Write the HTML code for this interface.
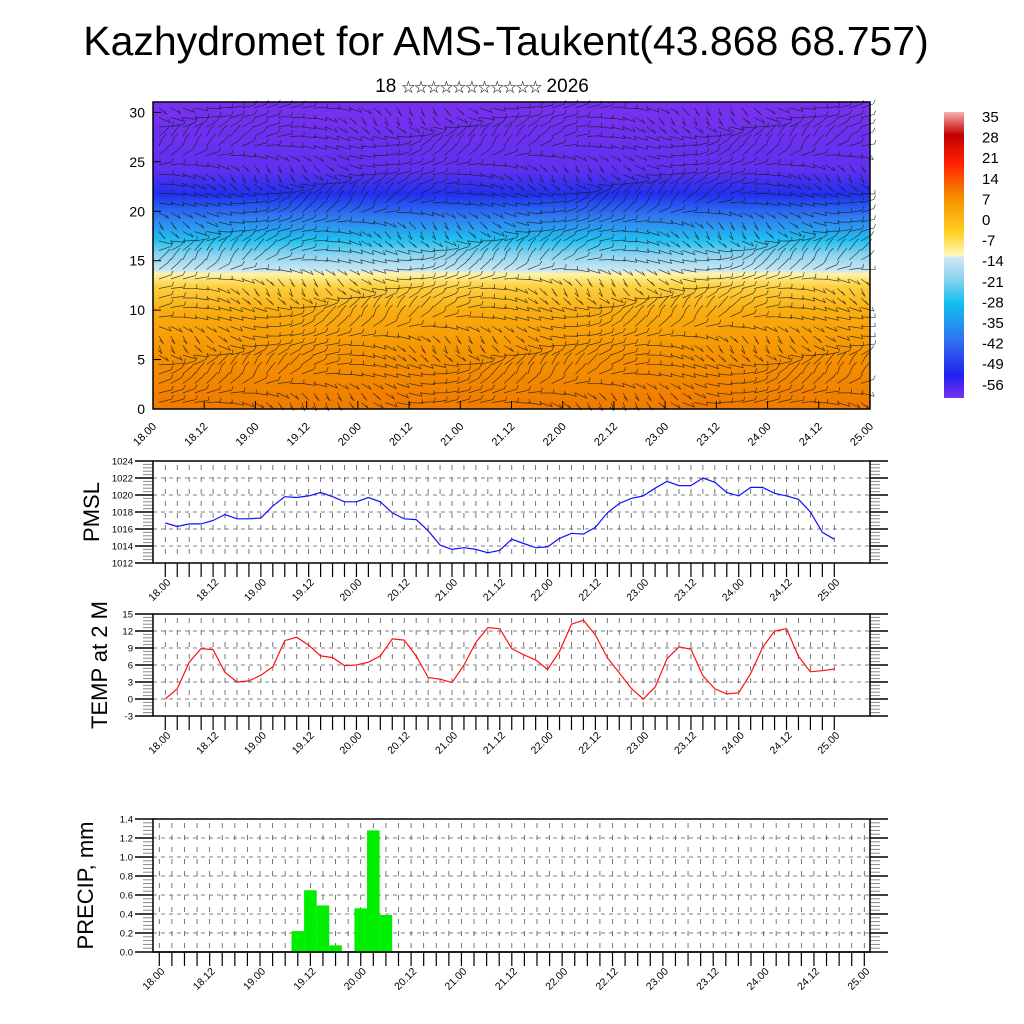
<!DOCTYPE html>
<html><head><meta charset="utf-8"><style>
html,body{margin:0;padding:0;background:#fff;}
svg{display:block;font-family:"Liberation Sans","Noto Sans CJK SC",sans-serif;}
</style></head><body>
<svg id="chart" width="1024" height="1024" viewBox="0 0 1024 1024" xmlns="http://www.w3.org/2000/svg">
<defs>
<linearGradient id="tempGrad" x1="0" y1="1" x2="0" y2="0">
<stop offset="0" stop-color="#f07a00"/>
<stop offset="0.16" stop-color="#f59000"/>
<stop offset="0.32" stop-color="#f9ad10"/>
<stop offset="0.40" stop-color="#fdd040"/>
<stop offset="0.44" stop-color="#fff3a8"/>
<stop offset="0.452" stop-color="#c8e6f4"/>
<stop offset="0.50" stop-color="#90d4f0"/>
<stop offset="0.55" stop-color="#20c0f0"/>
<stop offset="0.62" stop-color="#3080f0"/>
<stop offset="0.70" stop-color="#2030f0"/>
<stop offset="0.78" stop-color="#6030f0"/>
<stop offset="1" stop-color="#7a30f0"/>
</linearGradient>
<linearGradient id="cbGrad" x1="0" y1="1" x2="0" y2="0">
<stop offset="0" stop-color="#7a30f0"/>
<stop offset="0.08" stop-color="#2020f0"/>
<stop offset="0.2" stop-color="#3070f0"/>
<stop offset="0.33" stop-color="#10c0f0"/>
<stop offset="0.42" stop-color="#90d4f0"/>
<stop offset="0.494" stop-color="#d0e8f4"/>
<stop offset="0.495" stop-color="#fffac0"/>
<stop offset="0.58" stop-color="#ffd020"/>
<stop offset="0.7" stop-color="#f59000"/>
<stop offset="0.82" stop-color="#ff2000"/>
<stop offset="0.92" stop-color="#c00000"/>
<stop offset="1" stop-color="#f8b0b0"/>
</linearGradient>
</defs>
<text x="506" y="55" font-size="41" text-anchor="middle">Kazhydromet for AMS-Taukent(43.868 68.757)</text>
<text x="482" y="92" font-size="19" text-anchor="middle">18 <tspan font-size="13.5" letter-spacing="-0.8">☆☆☆☆☆☆☆☆☆☆☆</tspan> 2026</text>
<g id="contour"></g>
<g id="colorbar"></g>
<g id="pmsl"></g>
<g id="temp"></g>
<g id="precip"></g>
</svg>
<script>
const xLabels = ["18.00","18.12","19.00","19.12","20.00","20.12","21.00","21.12","22.00","22.12","23.00","23.12","24.00","24.12","25.00"];
const pmslValues = [1016.7,1016.3,1016.6,1016.6,1017.0,1017.7,1017.2,1017.2,1017.3,1018.7,1019.8,1019.7,1019.9,1020.3,1019.8,1019.2,1019.2,1019.7,1019.2,1017.9,1017.2,1017.1,1015.8,1014.1,1013.6,1013.8,1013.6,1013.2,1013.5,1014.8,1014.3,1013.8,1013.9,1014.9,1015.5,1015.4,1016.2,1017.9,1019.0,1019.6,1019.9,1020.8,1021.6,1021.1,1021.1,1022.0,1021.5,1020.3,1019.9,1020.9,1020.9,1020.2,1019.9,1019.5,1018.0,1015.6,1014.8];
const pmslTicks = [1012,1014,1016,1018,1020,1022,1024];
const tempValues = [0,1.8,6.5,8.9,8.7,4.7,3.0,3.2,4.2,5.7,10.3,10.9,9.5,7.6,7.3,5.9,6.0,6.5,7.6,10.6,10.4,7.6,3.8,3.5,2.9,6.0,10.0,12.6,12.4,8.9,7.8,6.9,5.2,8.4,13.2,13.9,11.3,7.3,4.6,1.9,0,2.1,7.1,9.2,8.8,4.1,1.8,0.9,1.1,4.5,9.1,12.0,12.4,7.5,4.8,5.0,5.3];
const tempTicks = [-3,0,3,6,9,12,15];
const precipIndex = [11,12,13,14,16,17,18,20];
const precipValues = [0.22,0.65,0.49,0.07,0.46,1.28,0.39,0.01];
const precipTicks = ["0.0","0.2","0.4","0.6","0.8","1.0","1.2","1.4"];
const heightTicks = [0,5,10,15,20,25,30];
const colorbarLabels = ["35","28","21","14","7","0","-7","-14","-21","-28","-35","-42","-49","-56"];

const NS="http://www.w3.org/2000/svg";
function mk(parent,tag,attrs,text){const e=document.createElementNS(NS,tag);for(const k in attrs)e.setAttribute(k,attrs[k]);if(text!==undefined)e.textContent=text;parent.appendChild(e);return e;}

function smallPanel(gid,box,ymin,ymax,ticks,tickLabels,x0,dx,label,labelX){
  const g=document.getElementById(gid);
  const ys=v=>box.b-(v-ymin)/(ymax-ymin)*(box.b-box.t);
  const xs=i=>x0+i*dx;
  for(let i=0;i<57;i++){const l=mk(g,'line',{x1:xs(i),x2:xs(i),y1:box.t+4,y2:box.b-2,stroke:'#555','stroke-width':0.8,'stroke-dasharray':'5,7'});
    }
  ticks.forEach((v,k)=>{const y=ys(v);
    if(k>0&&k<ticks.length-1){const l=mk(g,'line',{x1:box.l,x2:box.r,y1:y,y2:y,stroke:'#555','stroke-width':0.8,'stroke-dasharray':'4,4'});
      }
    mk(g,'line',{x1:box.l-18,x2:box.l,y1:y,y2:y,stroke:'#000','stroke-width':1.5});
    mk(g,'line',{x1:box.r,x2:box.r+18,y1:y,y2:y,stroke:'#000','stroke-width':1.5});
    const t=mk(g,'text',{x:box.l-20,y:y+3.5,'font-size':9.5,'text-anchor':'end'},tickLabels[k]);
    
    if(k<ticks.length-1){for(let m=1;m<5;m++){const yy=y-(ys(ticks[0])-ys(ticks[1]))*m/5;
      mk(g,'line',{x1:box.l-10,x2:box.l,y1:yy,y2:yy,stroke:'#888','stroke-width':1});
      mk(g,'line',{x1:box.r,x2:box.r+10,y1:yy,y2:yy,stroke:'#888','stroke-width':1});}}
  });
  for(let i=0;i<57;i++){mk(g,'line',{x1:xs(i),x2:xs(i),y1:box.b,y2:box.b+14,stroke:'#000','stroke-width':1.2});}
  xLabels.forEach((s,k)=>{const x=xs(k*4);const t=mk(g,'text',{x:x+6,y:box.b+20,'font-size':10.5,'text-anchor':'end',transform:`rotate(-45 ${x+6} ${box.b+20})`},s);
    });
  const fr=mk(g,'rect',{x:box.l,y:box.t,width:box.r-box.l,height:box.b-box.t,fill:'none',stroke:'#000','stroke-width':1.5});
  
  const yl=mk(g,'text',{x:labelX,y:(box.t+box.b)/2,'font-size':22,'text-anchor':'middle',transform:`rotate(-90 ${labelX} ${(box.t+box.b)/2})`},label);
  
  return {g,xs,ys};
}

(function(){const p=smallPanel('pmsl',{l:153,r:870,t:461,b:563},1012,1024,pmslTicks,pmslTicks.map(String),165.3,669/56,'PMSL',99);
  const d=pmslValues.map((v,i)=>(i?'L':'M')+p.xs(i).toFixed(1)+' '+p.ys(v).toFixed(1)).join(' ');
  const l=mk(p.g,'path',{d,fill:'none',stroke:'#1010ff','stroke-width':1.2});
  })();
(function(){const p=smallPanel('temp',{l:153,r:870,t:614,b:716},-3,15,tempTicks,tempTicks.map(String),165.3,669/56,'TEMP at 2 M',107);
  const d=tempValues.map((v,i)=>(i?'L':'M')+p.xs(i).toFixed(1)+' '+p.ys(v).toFixed(1)).join(' ');
  const l=mk(p.g,'path',{d,fill:'none',stroke:'#ff1010','stroke-width':1.2});
  })();
(function(){const tv=precipTicks.map(Number);const p=smallPanel('precip',{l:153,r:870,t:819,b:952},0,1.4,tv,precipTicks,159.3,705/56,'PRECIP, mm',93);
  const dx=705/56;
  precipIndex.forEach((ix,k)=>{const x=p.xs(ix)-dx/2;const y=p.ys(precipValues[k]);
    const r=mk(p.g,'rect',{x:x,y:y,width:dx,height:Math.max(952-y,0.5),fill:'#00ee00'});
    });
  mk(p.g,'line',{x1:153,x2:870,y1:952,y2:952,stroke:'#000','stroke-width':1.5});})();

(function(){const g=document.getElementById('contour');const L=153,R=870,T=102,B=409,ymax=31.05;
  const ys=v=>B-v/ymax*(B-T);
  const bg=mk(g,'rect',{x:L,y:T,width:R-L,height:B-T,fill:'url(#tempGrad)'});
  
  let d='';
  for(let yy=T+6;yy<B;yy+=9.5){for(let xx=L+6;xx<R;xx+=11.9){
    const a=Math.sin(xx*0.021+yy*0.05)*0.9+Math.cos(yy*0.11)*0.5;const len=14;
    const x2=xx+Math.cos(a)*len,y2=yy+Math.sin(a)*len*0.6;
    d+=`M${xx.toFixed(1)} ${yy.toFixed(1)}L${x2.toFixed(1)} ${y2.toFixed(1)}`;
    d+=`l${(-Math.sin(a)*4).toFixed(1)} ${(-4).toFixed(1)}`;}}
  const barbs=mk(g,'path',{d,stroke:'#1a1a1a','stroke-width':0.7,fill:'none',opacity:0.8});
  
  heightTicks.forEach(v=>{const y=ys(v);mk(g,'line',{x1:L,x2:L+8,y1:y,y2:y,stroke:'#000'});
    const t=mk(g,'text',{x:L-8,y:y+5,'font-size':14,'text-anchor':'end'},String(v));
    });
  xLabels.forEach((s,k)=>{const x=L+(R-L)*k/14;mk(g,'line',{x1:x,x2:x,y1:B,y2:B-8,stroke:'#000'});
    const t=mk(g,'text',{x:x+4,y:B+18,'font-size':11,'text-anchor':'end',transform:`rotate(-45 ${x+4} ${B+18})`},s);
    });
  const fr=mk(g,'rect',{x:L,y:T,width:R-L,height:B-T,fill:'none',stroke:'#000','stroke-width':1.5});
  })();

(function(){const g=document.getElementById('colorbar');
  const r=mk(g,'rect',{x:944,y:112,width:20,height:286,fill:'url(#cbGrad)'});
  
  colorbarLabels.forEach((s,k)=>{const t=mk(g,'text',{x:982,y:122+k*20.6,'font-size':15},s);
    });})();
</script>
</body></html>
